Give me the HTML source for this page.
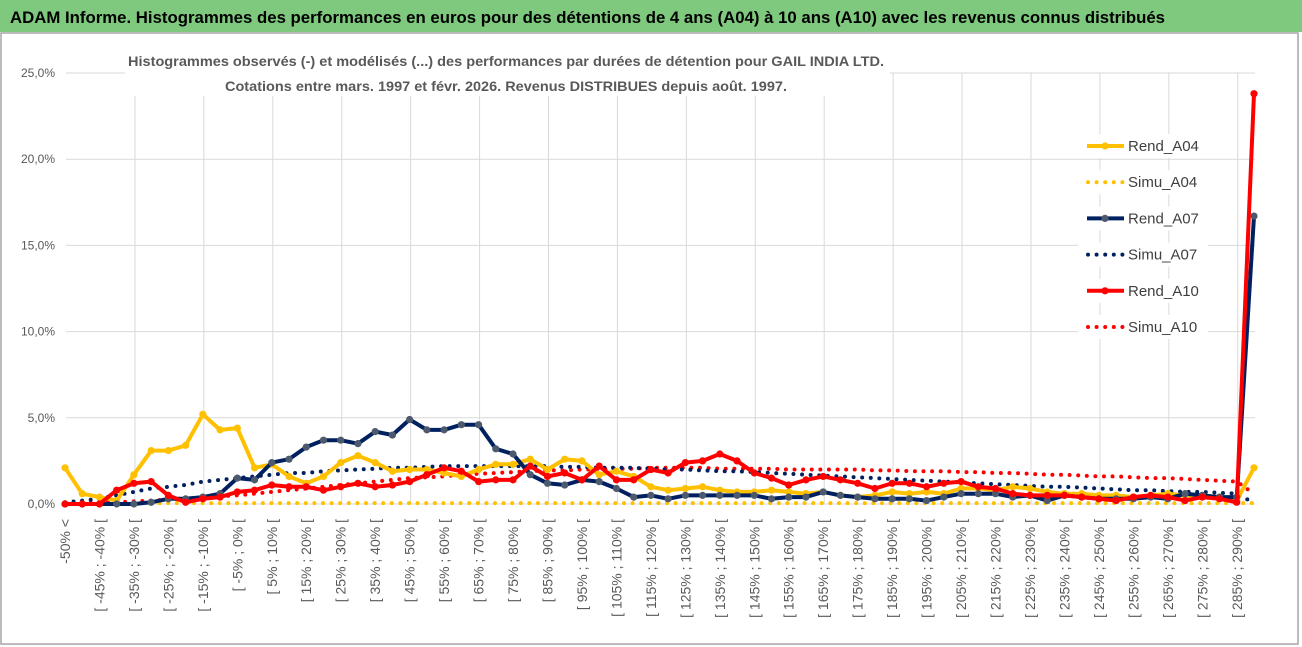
<!DOCTYPE html>
<html><head><meta charset="utf-8"><style>
html,body{margin:0;padding:0;background:#fff;}
svg{display:block;font-family:"Liberation Sans",sans-serif;}
</style></head><body>
<svg id="chart" width="1302" height="647" viewBox="0 0 1302 647">
<rect x="0" y="0" width="1302" height="647" fill="#fff"/>
<rect x="1" y="33" width="1297" height="611" fill="#fff" stroke="#a6a6a6" stroke-width="1.5"/>
<rect x="0" y="0" width="1302" height="32" fill="#7fc97f"/>
<text x="10" y="23" font-size="17" font-weight="bold" fill="#000" textLength="1155" lengthAdjust="spacingAndGlyphs">ADAM Informe. Histogrammes des performances en euros pour des détentions de 4 ans (A04) à 10 ans (A10) avec les revenus connus distribués</text>
<g id="grid"></g>
<g id="yticks"></g>
<g id="xticks"></g>
<rect x="125" y="48" width="765" height="48" fill="#fff"/>
<text x="506" y="66" font-size="14" font-weight="bold" fill="#595959" text-anchor="middle" textLength="756" lengthAdjust="spacingAndGlyphs">Histogrammes observés (-) et modélisés (...) des performances par durées de détention pour GAIL INDIA LTD.</text>
<text x="506" y="91" font-size="14" font-weight="bold" fill="#595959" text-anchor="middle" textLength="562" lengthAdjust="spacingAndGlyphs">Cotations entre mars. 1997 et févr. 2026. Revenus DISTRIBUES depuis août. 1997.</text>
<g id="series"></g>
<g id="legend"></g>
</svg>
<script>
const categories = (function(){const c=["-50% <"];for(let k=0;k<68;k++){const a=-50+5*k;c.push("[ "+a+"% ; "+(a+5)+"% [");}c.push("> 290%");return c;})();
const yTicks = [0,5,10,15,20,25];
const rendA04 = [2.1,0.6,0.4,0.2,1.7,3.1,3.1,3.4,5.2,4.3,4.4,2.1,2.3,1.6,1.2,1.6,2.4,2.8,2.4,1.9,2.0,2.0,1.8,1.6,2.0,2.3,2.3,2.6,2.0,2.6,2.5,1.7,1.9,1.6,1.0,0.8,0.9,1.0,0.8,0.7,0.7,0.8,0.7,0.6,0.7,0.5,0.4,0.5,0.7,0.6,0.7,0.6,0.9,0.9,0.8,1.0,0.9,0.7,0.6,0.6,0.5,0.5,0.4,0.5,0.6,0.5,0.5,0.4,0.2,2.1];
const simuA04 = [0.05,0.05,0.05,0.05,0.05,0.05,0.05,0.05,0.05,0.05,0.05,0.05,0.05,0.05,0.05,0.05,0.05,0.05,0.05,0.05,0.05,0.05,0.05,0.05,0.05,0.05,0.05,0.05,0.05,0.05,0.05,0.05,0.05,0.05,0.05,0.05,0.05,0.05,0.05,0.05,0.05,0.05,0.05,0.05,0.05,0.05,0.05,0.05,0.05,0.05,0.05,0.05,0.05,0.05,0.05,0.05,0.05,0.05,0.05,0.05,0.05,0.05,0.05,0.05,0.05,0.05,0.05,0.05,0.05,0.05];
const rendA07 = [0,0,0,0,0,0.1,0.3,0.3,0.4,0.6,1.5,1.4,2.4,2.6,3.3,3.7,3.7,3.5,4.2,4.0,4.9,4.3,4.3,4.6,4.6,3.2,2.9,1.7,1.2,1.1,1.4,1.3,0.9,0.4,0.5,0.3,0.5,0.5,0.5,0.5,0.5,0.3,0.4,0.4,0.7,0.5,0.4,0.3,0.3,0.3,0.2,0.4,0.6,0.6,0.6,0.4,0.5,0.2,0.5,0.4,0.3,0.3,0.3,0.4,0.3,0.6,0.5,0.4,0.4,16.7];
const simuA07 = [0.1,0.2,0.3,0.5,0.7,0.9,1.0,1.1,1.3,1.4,1.5,1.6,1.7,1.8,1.8,1.9,1.95,2.0,2.05,2.1,2.1,2.15,2.2,2.2,2.2,2.2,2.2,2.2,2.2,2.15,2.15,2.1,2.1,2.1,2.05,2.0,2.0,1.95,1.9,1.9,1.85,1.8,1.75,1.7,1.65,1.6,1.55,1.5,1.45,1.4,1.35,1.3,1.25,1.2,1.15,1.1,1.05,1.0,1.0,0.95,0.9,0.85,0.8,0.8,0.75,0.7,0.7,0.65,0.6,0.05];
const rendA10 = [0,0,0,0.8,1.2,1.3,0.5,0.1,0.3,0.4,0.7,0.8,1.1,1.0,1.0,0.8,1.0,1.2,1.0,1.1,1.3,1.7,2.1,1.9,1.3,1.4,1.4,2.2,1.6,1.8,1.4,2.2,1.4,1.4,2.0,1.8,2.4,2.5,2.9,2.5,1.8,1.5,1.1,1.4,1.6,1.4,1.2,0.9,1.2,1.2,1.0,1.2,1.3,1.0,0.9,0.6,0.5,0.5,0.5,0.4,0.3,0.2,0.4,0.5,0.4,0.2,0.4,0.3,0.1,23.8];
const simuA10 = [0,0.05,0.1,0.1,0.15,0.2,0.25,0.3,0.4,0.45,0.5,0.6,0.7,0.8,0.9,1.0,1.1,1.2,1.3,1.4,1.5,1.55,1.6,1.7,1.75,1.8,1.85,1.9,1.95,1.95,2.0,2.0,2.05,2.05,2.1,2.1,2.1,2.1,2.05,2.05,2.05,2.05,2.0,2.0,2.0,2.0,2.0,1.95,1.95,1.9,1.9,1.9,1.85,1.85,1.8,1.8,1.75,1.7,1.7,1.65,1.6,1.6,1.55,1.5,1.5,1.45,1.4,1.35,1.3,0.6];

const NS="http://www.w3.org/2000/svg";
const x0=65, dx=(1254-65)/69, y0=504, pxPer=(504-73)/25;
function xScale(i){return x0+dx*i;}
function yScale(v){return y0-v*pxPer;}
function mk(tag,attrs,parent){const e=document.createElementNS(NS,tag);for(const k in attrs)e.setAttribute(k,attrs[k]);parent.appendChild(e);return e;}

const grid=document.getElementById('grid');
yTicks.forEach(t=>{
  const l=mk('line',{x1:66,x2:1255,y1:yScale(t),y2:yScale(t),stroke:'#d9d9d9','stroke-width':1},grid);
  
  
});
for(let i=4;i<categories.length;i+=4){
  const l=mk('line',{x1:xScale(i)+1,x2:xScale(i)+1,y1:73,y2:504,stroke:'#d9d9d9','stroke-width':1},grid);
  
  
}
const yt=document.getElementById('yticks');
yTicks.forEach(t=>{
  const e=mk('text',{x:55,y:yScale(t)+4,'font-size':12,fill:'#595959','text-anchor':'end'},yt);
  e.textContent=t.toFixed(1).replace('.',',')+'%';
  
  
});
const xt=document.getElementById('xticks');
categories.forEach((c,i)=>{
  if(i%2!==0||i>68)return;
  const x=xScale(i)+5, y=519;
  const e=mk('text',{x:x,y:y,'font-size':14,fill:'#595959','text-anchor':'end',transform:'rotate(-90 '+x+' '+y+')'},xt);
  e.textContent=c;
  
  
});

const sg=document.getElementById('series');
function drawLine(vals,color,marker,name){
  const pts=vals.map((v,i)=>xScale(i).toFixed(1)+','+yScale(v).toFixed(1)).join(' ');
  const p=mk('polyline',{points:pts,fill:'none',stroke:color,'stroke-width':4,'stroke-linejoin':'round'},sg);
  
  
  vals.forEach((v,i)=>{
    const c=mk('circle',{cx:xScale(i),cy:yScale(v),r:3.6,fill:marker},sg);
    
    
  });
}
function drawDots(vals,color,name){
  const pts=vals.map((v,i)=>xScale(i).toFixed(1)+','+yScale(v).toFixed(1)).join(' ');
  const p=mk('polyline',{points:pts,fill:'none',stroke:color,'stroke-width':4,'stroke-dasharray':'0 8.6','stroke-linecap':'round'},sg);
  
  
}
drawDots(simuA04,'#ffc000','simu-a04');
drawDots(simuA10,'#ff0000','simu-a10');
drawDots(simuA07,'#002060','simu-a07');
drawLine(rendA04,'#ffc000','#ffc000','rend-a04');
drawLine(rendA07,'#002060','#4d5a6e','rend-a07');
drawLine(rendA10,'#ff0000','#ff0000','rend-a10');

const lg=document.getElementById('legend');
const entries=[['Rend_A04','#ffc000',false],['Simu_A04','#ffc000',true],['Rend_A07','#002060',false],['Simu_A07','#002060',true],['Rend_A10','#ff0000',false],['Simu_A10','#ff0000',true]];
entries.forEach((e,k)=>{
  const y=146+k*36.2;
  const g=mk('g',{},lg);
  
  
  mk('rect',{x:1078,y:y-12,width:130,height:24,fill:'#fff'},g);
  if(e[2]){
    mk('line',{x1:1088,x2:1124,y1:y,y2:y,stroke:e[1],'stroke-width':4,'stroke-dasharray':'0 8.6','stroke-linecap':'round'},g);
  } else {
    mk('line',{x1:1087,x2:1124,y1:y,y2:y,stroke:e[1],'stroke-width':4},g);
    mk('circle',{cx:1105,cy:y,r:3.6,fill:e[1]==='#002060'?'#4d5a6e':e[1]},g);
  }
  const t=mk('text',{x:1128,y:y+5,'font-size':15,fill:'#404040'},g);
  t.textContent=e[0];
});
</script>
</body></html>
